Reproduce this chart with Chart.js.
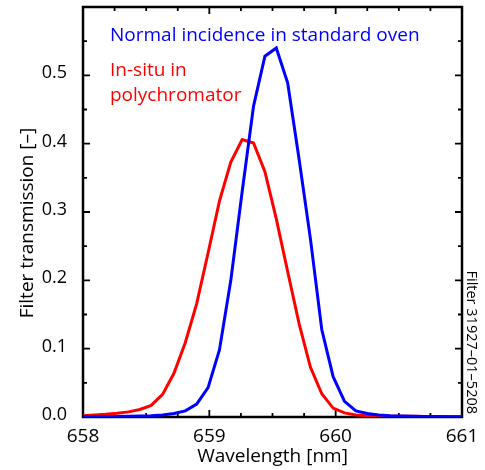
<!DOCTYPE html>
<html>
<head>
<meta charset="utf-8">
<script src="https://cdn.jsdelivr.net/npm/chart.js@4.4.1/dist/chart.umd.min.js"></script>
<style>
    html, body { margin: 0; padding: 0; background: #fff; }
    #box { width: 485px; height: 470px; }
</style>
</head>
<body>
<div id="box"><canvas id="grafico"></canvas></div>
<script>
// comprimentos de onda (nm), passo de ~0.09 nm
const comprimentoOnda = [
    658.00, 658.09, 658.18, 658.27, 658.36, 658.45, 658.54, 658.63, 658.72, 658.81,
    658.90, 658.99, 659.08, 659.17, 659.26, 659.35, 659.44, 659.53, 659.62, 659.71,
    659.80, 659.89, 659.98, 660.07, 660.16, 660.25, 660.34, 660.43, 660.52, 660.61,
    660.70, 660.79, 660.88, 660.97, 661.06
];

// transmissão em incidência normal (forno padrão)
const transNormal = [
    0.0003, 0.0004, 0.0005, 0.0007, 0.001, 0.0015, 0.002, 0.003, 0.005, 0.009,
    0.019, 0.043, 0.098, 0.200, 0.330, 0.455, 0.528, 0.540, 0.489, 0.378,
    0.261, 0.128, 0.059, 0.023, 0.009, 0.005, 0.003, 0.002, 0.0015, 0.001,
    0.0008, 0.0006, 0.0005, 0.0004, 0.0003
];

// transmissão in-situ no policromador
const transInSitu = [
    0.002, 0.003, 0.004, 0.0055, 0.0075, 0.011, 0.017, 0.033, 0.064, 0.109,
    0.166, 0.240, 0.316, 0.373, 0.406, 0.401, 0.359, 0.290, 0.213, 0.137,
    0.073, 0.034, 0.013, 0.006, 0.003, 0.002, 0.0015, 0.001, 0.001, 0.001,
    0.0008, 0.0008, 0.0006, 0.0005, 0.0005
];

const ticksX = [658, 659, 660, 661];
const ticksY = [0.0, 0.1, 0.2, 0.3, 0.4, 0.5];

const fonte = "'Open Sans', sans-serif";

function pontos(valores) {
    return comprimentoOnda.map((x, i) => ({ x: x, y: valores[i] }));
}

// moldura com ticks para dentro nos quatro lados + textos
const moldura = {
    id: 'moldura',
    beforeDatasetsDraw(chart) {
        const ctx = chart.ctx;
        const a = chart.chartArea;
        const sx = chart.scales.x;
        const sy = chart.scales.y;
        ctx.save();
        ctx.strokeStyle = '#000';
        ctx.lineWidth = 2.5;
        ctx.strokeRect(a.left, a.top, a.right - a.left, a.bottom - a.top);

        ctx.lineWidth = 1.8;
        ctx.beginPath();
        for (let i = 0; i <= 12; i++) {
            const v = 658 + i * 0.25;
            const px = sx.getPixelForValue(v);
            const len = i % 4 === 0 ? 7 : 4;
            ctx.moveTo(px, a.bottom);
            ctx.lineTo(px, a.bottom - len);
            ctx.moveTo(px, a.top);
            ctx.lineTo(px, a.top + len);
        }
        for (let i = 0; i <= 12; i++) {
            const v = i * 0.05;
            const py = sy.getPixelForValue(v);
            const len = i % 2 === 0 ? 7 : 4;
            ctx.moveTo(a.left, py);
            ctx.lineTo(a.left + len, py);
            ctx.moveTo(a.right, py);
            ctx.lineTo(a.right - len, py);
        }
        ctx.stroke();
        ctx.restore();
    },
    afterDraw(chart) {
        const ctx = chart.ctx;
        const a = chart.chartArea;
        ctx.save();
        ctx.font = '19px ' + fonte;
        ctx.textBaseline = 'alphabetic';
        ctx.textAlign = 'left';

        ctx.fillStyle = '#0000ff';
        ctx.fillText('Normal incidence in standard oven', 110, 41);
        ctx.fillStyle = '#ff0000';
        ctx.fillText('In-situ in', 110, 76);
        ctx.fillText('polychromator', 110, 101);

        // títulos dos eixos
        ctx.fillStyle = '#000';
        ctx.textAlign = 'center';
        ctx.fillText('Wavelength [nm]', (a.left + a.right) / 2, 462);

        ctx.save();
        ctx.translate(33, 223);
        ctx.rotate(-Math.PI / 2);
        ctx.fillText('Filter transmission [–]', 0, 0);
        ctx.restore();

        // identificação do filtro na lateral
        ctx.save();
        ctx.font = '14.5px ' + fonte;
        ctx.translate(471, a.bottom - 3);
        ctx.rotate(Math.PI / 2);
        ctx.textAlign = 'right';
        ctx.textBaseline = 'middle';
        ctx.fillText('Filter 31927–01–5208', 0, 0);
        ctx.restore();

        ctx.restore();
    }
};

const config = {
    type: 'line',
    data: {
        datasets: [
            {
                label: 'Normal incidence in standard oven',
                data: pontos(transNormal),
                borderColor: '#0000ff',
                borderWidth: 3,
                pointRadius: 0,
                tension: 0,
                fill: false
            },
            {
                label: 'In-situ in polychromator',
                data: pontos(transInSitu),
                borderColor: '#ff0000',
                borderWidth: 3,
                pointRadius: 0,
                tension: 0,
                fill: false
            }
        ]
    },
    options: {
        responsive: false,
        animation: false,
        devicePixelRatio: 1,
        layout: { padding: { top: 7, right: 23, left: 0, bottom: 0 } },
        plugins: {
            legend: { display: false },
            tooltip: { enabled: false }
        },
        scales: {
            x: {
                type: 'linear',
                min: 658,
                max: 661,
                grid: { display: false, drawTicks: false },
                border: { display: false },
                afterBuildTicks: (s) => { s.ticks = ticksX.map(v => ({ value: v })); },
                afterFit: (s) => {
                    s.height = 53;
                    s.paddingLeft = 0;
                    s.paddingRight = 0;
                },
                ticks: {
                    color: '#000',
                    padding: 8,
                    maxRotation: 0,
                    font: { family: fonte, size: 19 },
                    callback: (v) => String(v)
                }
            },
            y: {
                min: 0,
                max: 0.6,
                grid: { display: false, drawTicks: false },
                border: { display: false },
                afterBuildTicks: (s) => { s.ticks = ticksY.map(v => ({ value: v })); },
                afterFit: (s) => {
                    s.width = 83;
                    s.paddingTop = 0;
                    s.paddingBottom = 0;
                },
                ticks: {
                    color: '#000',
                    padding: 16,
                    labelOffset: -2,
                    font: { family: fonte, size: 18 },
                    callback: (v) => Number(v).toFixed(1)
                }
            }
        }
    },
    plugins: [moldura]
};

const canvas = document.getElementById('grafico');
canvas.width = 485;
canvas.height = 470;
let myChart = new Chart(canvas, config);
</script>
</body>
</html>
